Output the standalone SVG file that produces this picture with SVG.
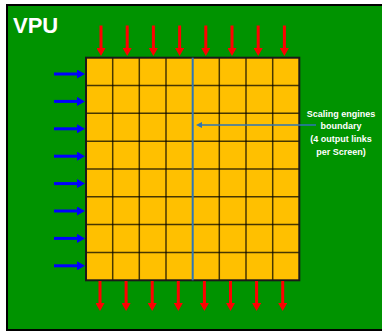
<svg xmlns="http://www.w3.org/2000/svg" width="382" height="331" viewBox="0 0 382 331">
<style>
.red{stroke:#ff0000;stroke-width:3;fill:none;marker-end:url(#hr)}
.blu{stroke:#0000ff;stroke-width:3;fill:none;marker-end:url(#hb)}
.gl{stroke:#000;stroke-opacity:0.72;stroke-width:1.5}
.lbl{font-family:"Liberation Sans",Arial,sans-serif;font-weight:bold;fill:#ffffff}
</style>
<defs>
<marker id="hr" viewBox="0 0 8 9" refX="0" refY="4.5" markerWidth="8" markerHeight="9" markerUnits="userSpaceOnUse" orient="auto"><path d="M0,0L8,4.5L0,9Z" fill="#ff0000"/></marker>
<marker id="hb" viewBox="0 0 8 9" refX="0" refY="4.5" markerWidth="8" markerHeight="9" markerUnits="userSpaceOnUse" orient="auto"><path d="M0,0L8,4.5L0,9Z" fill="#0000ff"/></marker>
<marker id="hs" viewBox="0 0 6 6" refX="0" refY="3" markerWidth="6" markerHeight="6" markerUnits="userSpaceOnUse" orient="auto"><path d="M0,0L6,3L0,6Z" fill="#2e75b6"/></marker>
</defs>
<rect width="382" height="331" fill="#ffffff"/>
<g id="vpu">
<rect x="7" y="5" width="380" height="325" fill="#009300" stroke="#000" stroke-width="2"/>
<text class="lbl" x="13" y="33" font-size="22">VPU</text>
</g>
<g id="grid">
<rect x="86" y="57.7" width="213.3" height="222.6" fill="#ffc000"/>
<g class="gl">
<line x1="112.7" y1="57.7" x2="112.7" y2="280.3"/>
<line x1="139.3" y1="57.7" x2="139.3" y2="280.3"/>
<line x1="166" y1="57.7" x2="166" y2="280.3"/>
<line x1="219.3" y1="57.7" x2="219.3" y2="280.3"/>
<line x1="246" y1="57.7" x2="246" y2="280.3"/>
<line x1="272.7" y1="57.7" x2="272.7" y2="280.3"/>
<line x1="86" y1="85.5" x2="299.3" y2="85.5"/>
<line x1="86" y1="113.3" x2="299.3" y2="113.3"/>
<line x1="86" y1="141.2" x2="299.3" y2="141.2"/>
<line x1="86" y1="169" x2="299.3" y2="169"/>
<line x1="86" y1="196.8" x2="299.3" y2="196.8"/>
<line x1="86" y1="224.6" x2="299.3" y2="224.6"/>
<line x1="86" y1="252.5" x2="299.3" y2="252.5"/>
</g>
<rect x="86" y="57.7" width="213.3" height="222.6" fill="none" stroke="#1a1a1a" stroke-width="2"/>
<line x1="192.7" y1="57.7" x2="192.7" y2="280.3" stroke="#2e75b6" stroke-width="2"/>
</g>
<g id="connectors">
<path class="red" d="M101,25.5V48"/>
<path class="red" d="M127.2,25.5V48"/>
<path class="red" d="M153.4,25.5V48"/>
<path class="red" d="M179.6,25.5V48"/>
<path class="red" d="M205.8,25.5V48"/>
<path class="red" d="M232,25.5V48"/>
<path class="red" d="M258.2,25.5V48"/>
<path class="red" d="M284.4,25.5V48"/>
<path class="red" d="M100,281V303"/>
<path class="red" d="M126.1,281V303"/>
<path class="red" d="M152.2,281V303"/>
<path class="red" d="M178.3,281V303"/>
<path class="red" d="M204.4,281V303"/>
<path class="red" d="M230.5,281V303"/>
<path class="red" d="M256.6,281V303"/>
<path class="red" d="M282.7,281V303"/>
<path class="blu" d="M54,74H77"/>
<path class="blu" d="M54,101.4H77"/>
<path class="blu" d="M54,128.8H77"/>
<path class="blu" d="M54,156.2H77"/>
<path class="blu" d="M54,183.6H77"/>
<path class="blu" d="M54,211H77"/>
<path class="blu" d="M54,238.4H77"/>
<path class="blu" d="M54,265.8H77"/>
<path d="M316,125H202" stroke="#2e75b6" stroke-width="1.5" fill="none" marker-end="url(#hs)"/>
</g>
<g id="label" class="lbl" font-size="9" text-anchor="middle">
<text x="341" y="116.5">Scaling engines</text>
<text x="341" y="128.5">boundary</text>
<text x="341" y="141.5">(4 output links</text>
<text x="341" y="154.5">per Screen)</text>
</g>
</svg>
